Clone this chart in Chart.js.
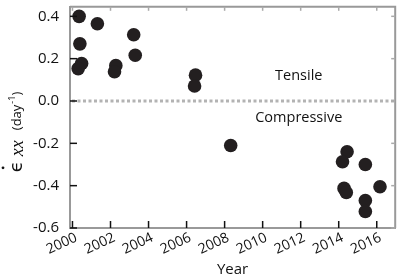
<!DOCTYPE html>
<html>
<head>
  <title>Strain rate by year</title>
  <script src="https://cdn.jsdelivr.net/npm/chart.js@4/dist/chart.umd.min.js"></script>
  <style>
    body { margin: 0; background: #fff; }
    #wrap { width: 402px; height: 280px; }
  </style>
  <script>
    // values
    var years = [2000.35, 2000.39, 2000.48, 2000.30, 2001.31, 2002.28, 2002.21, 2003.22, 2003.30,
                 2006.47, 2006.42, 2008.32, 2014.44, 2014.20, 2015.40, 2014.28, 2014.40, 2016.17, 2015.40, 2015.40];
    var rates = [0.40, 0.27, 0.177, 0.153, 0.365, 0.167, 0.138, 0.313, 0.216,
                 0.122, 0.071, -0.21, -0.24, -0.287, -0.30, -0.413, -0.432, -0.405, -0.47, -0.522];
    var xTicks = [2000, 2002, 2004, 2006, 2008, 2010, 2012, 2014, 2016];
    var yTicks = [-0.6, -0.4, -0.2, 0.0, 0.2, 0.4];
    var notes = [
      { text: 'Tensile', x: 2011.9, y: 0.118 },
      { text: 'Compressive', x: 2011.9, y: -0.079 }
    ];

    var tickFont = '"Open Sans", sans-serif';

    var framePlugin = {
      id: 'frame',
      beforeDatasetsDraw: function(chart) {
        var ctx = chart.ctx, a = chart.chartArea, y = chart.scales.y;
        var y0 = y.getPixelForValue(0);
        ctx.save();
        ctx.strokeStyle = '#b3b3b3';
        ctx.lineWidth = 3;
        ctx.setLineDash([3, 2.5]);
        ctx.beginPath();
        ctx.moveTo(a.left + 2, y0);
        ctx.lineTo(a.right - 1, y0);
        ctx.stroke();
        ctx.restore();
      },
      afterDraw: function(chart) {
        var ctx = chart.ctx, a = chart.chartArea;
        var xs = chart.scales.x, ys = chart.scales.y;
        ctx.save();
        // top and right frame
        ctx.strokeStyle = '#999';
        ctx.lineWidth = 2;
        ctx.beginPath();
        ctx.moveTo(a.left, a.top);
        ctx.lineTo(a.right, a.top);
        ctx.lineTo(a.right, a.bottom);
        ctx.stroke();
        // inward ticks
        ctx.lineWidth = 1.5;
        xTicks.forEach(function(v) {
          var p = xs.getPixelForValue(v);
          ctx.strokeStyle = '#111';
          ctx.beginPath(); ctx.moveTo(p, a.bottom); ctx.lineTo(p, a.bottom - 7); ctx.stroke();
          ctx.strokeStyle = '#aaa';
          ctx.beginPath(); ctx.moveTo(p, a.top); ctx.lineTo(p, a.top + 4); ctx.stroke();
        });
        yTicks.forEach(function(v) {
          var p = ys.getPixelForValue(v);
          ctx.strokeStyle = '#111';
          ctx.beginPath(); ctx.moveTo(a.left, p); ctx.lineTo(a.left + 7, p); ctx.stroke();
          ctx.strokeStyle = '#aaa';
          ctx.beginPath(); ctx.moveTo(a.right, p); ctx.lineTo(a.right - 4, p); ctx.stroke();
        });
        // slanted year labels under the x ticks
        ctx.fillStyle = '#111';
        ctx.font = '14px ' + tickFont;
        ctx.textAlign = 'right';
        ctx.textBaseline = 'alphabetic';
        xTicks.forEach(function(v) {
          ctx.save();
          ctx.translate(xs.getPixelForValue(v) + 1, a.bottom + 3);
          ctx.rotate(-25 * Math.PI / 180);
          ctx.fillText(String(v), 0, 10.5);
          ctx.restore();
        });
        // region notes
        ctx.font = '14.5px ' + tickFont;
        ctx.textAlign = 'center';
        ctx.textBaseline = 'middle';
        notes.forEach(function(n) {
          ctx.fillText(n.text, xs.getPixelForValue(n.x), ys.getPixelForValue(n.y));
        });
        // y title: eps-dot_xx (day^-1), rotated
        ctx.translate(22, 132);
        ctx.rotate(-Math.PI / 2);
        ctx.textAlign = 'left';
        ctx.textBaseline = 'alphabetic';
        var parts = [
          { t: '\u03f5', f: '18px "DejaVu Sans"', dy: 0, gap: 5 },
          { t: 'xx', f: 'italic 18px "Liberation Serif"', dy: 1, gap: 10 },
          { t: '(day', f: '13px ' + tickFont, dy: -1, gap: 1 },
          { t: '-1', f: '9px ' + tickFont, dy: -7, gap: 0 },
          { t: ')', f: '13px ' + tickFont, dy: -1, gap: 0 }
        ];
        var total = 0;
        parts.forEach(function(p) { ctx.font = p.f; p.w = ctx.measureText(p.t).width; total += p.w + p.gap; });
        var cx = -total / 2;
        parts.forEach(function(p, i) {
          ctx.font = p.f;
          ctx.fillText(p.t, cx, p.dy);
          if (i === 0) {
            ctx.beginPath();
            ctx.arc(cx + p.w * 0.4, -19, 1.4, 0, Math.PI * 2);
            ctx.fill();
          }
          cx += p.w + p.gap;
        });
        ctx.restore();
      }
    };

    function drawChart() {
      var pts = years.map(function(yr, i) { return { x: yr, y: rates[i] }; });
      var ctx = document.getElementById('rate').getContext('2d');
      new Chart(ctx, {
        type: 'scatter',
        data: {
          datasets: [{
            data: pts,
            pointRadius: 6.8,
            pointHoverRadius: 6.8,
            pointBackgroundColor: '#231f20',
            pointBorderColor: '#231f20',
            pointBorderWidth: 0
          }]
        },
        options: {
          responsive: false,
          animation: false,
          layout: { padding: { top: 1, right: 4, left: 0, bottom: 0 } },
          plugins: { legend: { display: false }, tooltip: { enabled: false } },
          scales: {
            x: {
              type: 'linear',
              min: 1999.87,
              max: 2016.97,
              grid: { display: false },
              border: { display: true, color: '#999', width: 2 },
              afterBuildTicks: function(s) { s.ticks = xTicks.map(function(v) { return { value: v }; }); },
              afterFit: function(s) { s.height = 52; s.paddingLeft = 0; s.paddingRight = 0; },
              ticks: { display: false },
              title: {
                display: true,
                text: 'Year',
                color: '#111',
                font: { family: tickFont, size: 15 },
                padding: { top: 0, bottom: 1 }
              }
            },
            y: {
              min: -0.6,
              max: 0.445,
              grid: { display: false },
              border: { display: true, color: '#999', width: 2 },
              afterBuildTicks: function(s) { s.ticks = yTicks.map(function(v) { return { value: v }; }); },
              afterFit: function(s) { s.width = 70; s.paddingTop = 0; s.paddingBottom = 0; },
              ticks: {
                color: '#111',
                font: { family: tickFont, size: 15 },
                autoSkip: false,
                padding: 3,
                callback: function(v) { return v.toFixed(1); }
              }
            }
          }
        },
        plugins: [framePlugin]
      });
    }
    window.onload = drawChart;
  </script>
</head>
<body>
  <div id="wrap"><canvas id="rate" width="402" height="280"></canvas></div>
</body>
</html>
